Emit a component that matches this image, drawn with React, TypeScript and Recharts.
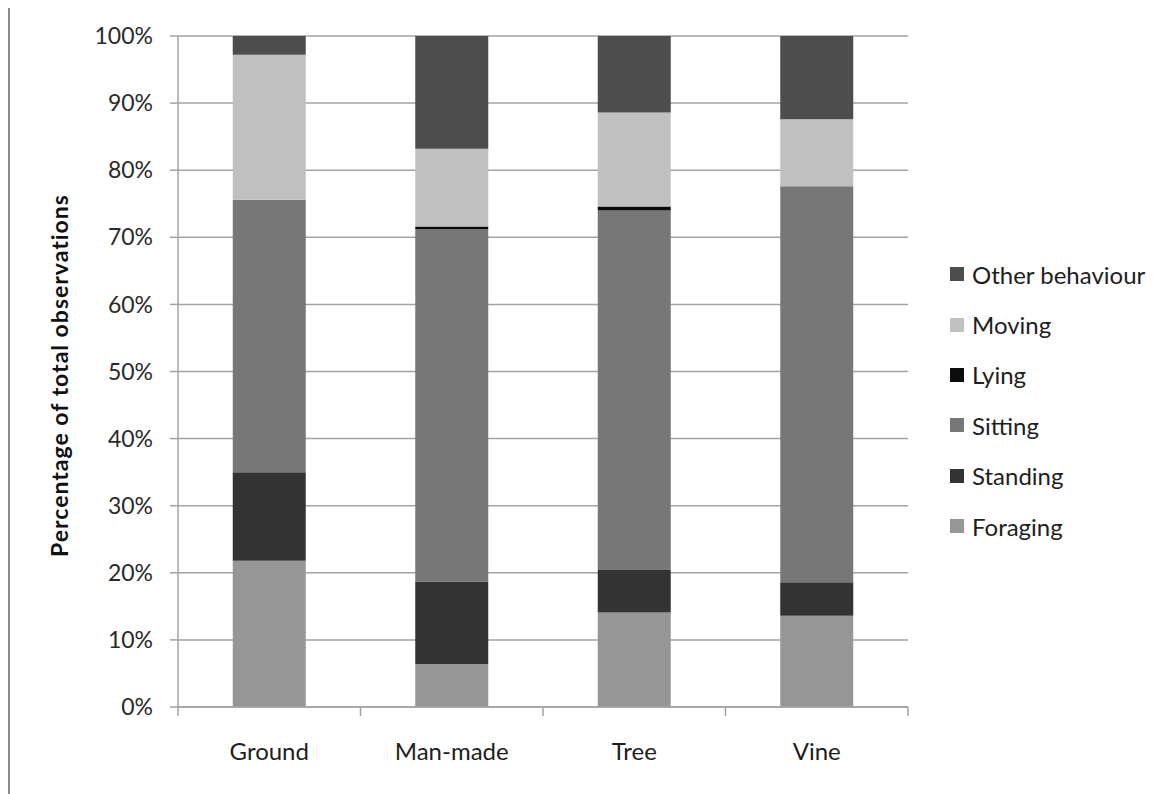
import { BarChart, Bar, XAxis, YAxis, CartesianGrid } from "recharts";

const categories = ["Ground", "Man-made", "Tree", "Vine"];

// percent of observations per behaviour, stacked bottom to top
const foraging = [21.8, 6.4, 14.1, 13.6];
const standing = [13.2, 12.3, 6.3, 5.0];
const sitting = [40.6, 52.5, 53.6, 59.0];
const lying = [0, 0.4, 0.6, 0];
const moving = [21.6, 11.6, 14.0, 10.0];
const other = [2.8, 16.8, 11.4, 12.4];

const yTicks = [0, 10, 20, 30, 40, 50, 60, 70, 80, 90, 100];

const series = [
  { key: "foraging", name: "Foraging", values: foraging, color: "#969696" },
  { key: "standing", name: "Standing", values: standing, color: "#333333" },
  { key: "sitting", name: "Sitting", values: sitting, color: "#777777" },
  { key: "lying", name: "Lying", values: lying, color: "#0c0c0c" },
  { key: "moving", name: "Moving", values: moving, color: "#c0c0c0" },
  { key: "other", name: "Other behaviour", values: other, color: "#4d4d4d" },
];

const chartData = categories.map((cat, i) => {
  const row: Record<string, any> = { cat };
  series.forEach((s) => {
    row[s.key] = s.values[i];
  });
  return row;
});

const W = 1163;
const H = 787;
const PLOT_LEFT = 168;
const PLOT_RIGHT = 898;
const PLOT_TOP = 29;
const PLOT_BOTTOM = 700;
const HALF_BAND = (PLOT_RIGHT - PLOT_LEFT) / categories.length / 2;
const FONT = "Lato, 'Open Sans', sans-serif";
const AXIS_COLOR = "#a3a3a3";

const XTick = (props: any) => {
  const { x, y, payload, index } = props;
  const last = index === categories.length - 1;
  return (
    <g>
      <line x1={x - HALF_BAND} y1={y} x2={x - HALF_BAND} y2={y + 9} stroke={AXIS_COLOR} strokeWidth={1.5} />
      {last && (
        <line x1={x + HALF_BAND} y1={y} x2={x + HALF_BAND} y2={y + 9} stroke={AXIS_COLOR} strokeWidth={1.5} />
      )}
      <text x={x} y={y + 53} textAnchor="middle" fontFamily={FONT} fontSize={24} fill="#1e1e1e">
        {payload.value}
      </text>
    </g>
  );
};

const YTitle = (props: any) => {
  const vb = props.viewBox || { x: 0, y: PLOT_TOP, height: PLOT_BOTTOM - PLOT_TOP };
  const cx = vb.x + 49;
  const cy = vb.y + vb.height / 2 + 4;
  return (
    <text
      x={cx}
      y={cy}
      transform={`rotate(-90 ${cx} ${cy})`}
      textAnchor="middle"
      dominantBaseline="central"
      fontFamily={FONT}
      fontWeight="bold"
      fontSize={23}
      letterSpacing={1}
      fill="#111"
    >
      Percentage of total observations
    </text>
  );
};

const LegendBox = () => (
  <div
    style={{
      position: "absolute",
      left: 940,
      top: 242,
      fontFamily: FONT,
      fontSize: 24,
      color: "#1e1e1e",
    }}
  >
    {[...series].reverse().map((s) => (
      <div key={s.key} style={{ height: 50.4, display: "flex", alignItems: "center" }}>
        <span style={{ width: 14, height: 14, background: s.color, display: "inline-block", marginRight: 8 }} />
        <span>{s.name}</span>
      </div>
    ))}
  </div>
);

export default function App() {
  return (
    <div
      style={{
        position: "relative",
        top: -3,
        width: W + 2,
        height: H + 2,
        background: "#fff",
      }}
    >
      {/* chart-area frame: only top and left edges are visible in the crop */}
      <div style={{ position: "absolute", left: 0, top: 0, width: W + 2, height: 2, background: "#888" }} />
      <div style={{ position: "absolute", left: 0, top: 0, width: 2, height: H + 2, background: "#888" }} />
      <div style={{ position: "absolute", left: 2, top: 2 }}>
        <BarChart
          width={W}
          height={H}
          data={chartData}
          barCategoryGap="30%"
          margin={{ top: PLOT_TOP, right: W - PLOT_RIGHT, left: 0, bottom: 0 }}
        >
          <CartesianGrid vertical={false} stroke={AXIS_COLOR} strokeWidth={1.5} />
          <XAxis
            dataKey="cat"
            height={H - PLOT_BOTTOM}
            tickLine={false}
            tickSize={0}
            tickMargin={0}
            stroke={AXIS_COLOR}
            strokeWidth={1.5}
            tick={<XTick />}
            interval={0}
          />
          <YAxis
            width={PLOT_LEFT}
            domain={[0, 100]}
            ticks={yTicks}
            interval={0}
            tickFormatter={(v: number) => `${v}%`}
            tickSize={8}
            tickMargin={17}
            stroke={AXIS_COLOR}
            strokeWidth={1.5}
            tick={{ fontFamily: FONT, fontSize: 23, fill: "#2a2a2a" }}
            label={<YTitle />}
          />
          {series.map((s) => (
            <Bar
              key={s.key}
              dataKey={s.key}
              name={s.name}
              stackId="a"
              fill={s.color}
              isAnimationActive={false}
            />
          ))}
        </BarChart>
        <LegendBox />
      </div>
    </div>
  );
}
